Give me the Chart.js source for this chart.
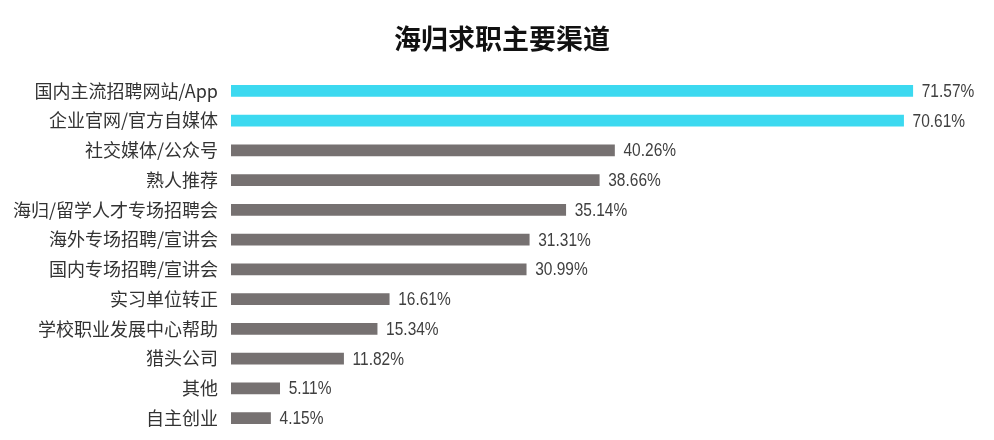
<!DOCTYPE html>
<html>
<head>
<meta charset="utf-8">
<script src="https://cdn.jsdelivr.net/npm/chart.js@4"></script>
<style>
    html, body { margin: 0; padding: 0; background: #fff; overflow: hidden; }
    canvas { display: block; }
</style>
</head>
<body>
<canvas id="channelChart" width="994" height="440"></canvas>
<script>
const categories = [
    "国内主流招聘网站/App",
    "企业官网/官方自媒体",
    "社交媒体/公众号",
    "熟人推荐",
    "海归/留学人才专场招聘会",
    "海外专场招聘/宣讲会",
    "国内专场招聘/宣讲会",
    "实习单位转正",
    "学校职业发展中心帮助",
    "猎头公司",
    "其他",
    "自主创业"
];
const shares = [71.57, 70.61, 40.26, 38.66, 35.14, 31.31, 30.99, 16.61, 15.34, 11.82, 5.11, 4.15];
const valueLabels = ["71.57%", "70.61%", "40.26%", "38.66%", "35.14%", "31.31%", "30.99%", "16.61%", "15.34%", "11.82%", "5.11%", "4.15%"];
const highlightCount = 2;
const chartTitle = "海归求职主要渠道";

const CYAN = "#3cd9f0";
const GREY = "#767171";

// title drawn by hand so it can sit a bit right of the canvas centre
const titlePlugin = {
    id: "titlePlugin",
    afterDraw(chart) {
        const c = chart.ctx;
        c.save();
        c.font = 'bold 27px "Noto Sans CJK SC", sans-serif';
        c.fillStyle = "#111";
        c.textAlign = "center";
        c.textBaseline = "middle";
        c.fillText(chartTitle, 502, 39);
        c.restore();
    }
};

// value labels at the end of each bar (narrowed to look like the condensed font)
const endLabels = {
    id: "endLabels",
    afterDatasetsDraw(chart) {
        const c = chart.ctx;
        const meta = chart.getDatasetMeta(0);
        c.save();
        c.font = '18px "Liberation Sans", sans-serif';
        c.fillStyle = "#404040";
        c.textAlign = "left";
        c.textBaseline = "middle";
        meta.data.forEach((bar, i) => {
            c.save();
            c.translate(bar.x + 9, bar.y + 1);
            c.scale(0.86, 1);
            c.fillText(valueLabels[i], 0, 0);
            c.restore();
        });
        c.restore();
    }
};

const ctx = document.getElementById("channelChart").getContext("2d");

new Chart(ctx, {
    type: "bar",
    data: {
        labels: categories,
        datasets: [{
            data: shares,
            backgroundColor: shares.map((v, i) => i < highlightCount ? CYAN : GREY),
            barThickness: 11,
            borderWidth: 0
        }]
    },
    plugins: [titlePlugin, endLabels],
    options: {
        indexAxis: "y",
        responsive: false,
        animation: false,
        layout: {
            padding: { left: 0, right: 20, bottom: 7, top: 76 }
        },
        plugins: {
            legend: { display: false },
            tooltip: { enabled: false },
            title: { display: false }
        },
        scales: {
            x: {
                display: false,
                min: 0,
                max: 78
            },
            y: {
                grid: { display: false, drawTicks: false },
                border: { display: false },
                ticks: {
                    color: "#333",
                    padding: 13,
                    font: { family: '"Noto Sans CJK SC", sans-serif', size: 18 }
                },
                afterFit(axis) {
                    axis.width = 231;
                    axis.paddingTop = 0;
                    axis.paddingBottom = 0;
                }
            }
        }
    }
});
</script>
</body>
</html>
